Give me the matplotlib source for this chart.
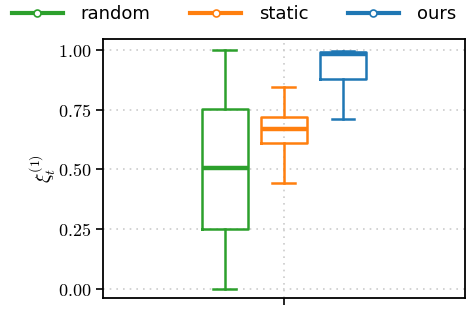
import matplotlib
matplotlib.use("Agg")
import matplotlib.pyplot as plt
from matplotlib.lines import Line2D
from matplotlib.ticker import FuncFormatter

methods = ["random", "static", "ours"]
colors = ["#2ca02c", "#ff7f0e", "#1f77b4"]
whislo = [0.0, 0.444, 0.71]
q1 = [0.251, 0.609, 0.877]
med = [0.505, 0.671, 0.982]
q3 = [0.753, 0.721, 0.992]
whishi = [1.0, 0.846, 0.996]

plt.rcParams["mathtext.fontset"] = "cm"

fig = plt.figure(figsize=(4.68, 3.10), dpi=100)
ax = fig.add_axes([0.220, 0.0387, 0.7736, 0.8353])

positions = [-0.163, 0.0, 0.163]
for i, m in enumerate(methods):
    st = [dict(med=med[i], q1=q1[i], q3=q3[i], whislo=whislo[i], whishi=whishi[i], fliers=[], label=m)]
    c = colors[i]
    ax.bxp(st, positions=[positions[i]], widths=0.127, showfliers=False, manage_ticks=False,
           boxprops=dict(color=c, linewidth=1.8),
           whiskerprops=dict(color=c, linewidth=1.8),
           capprops=dict(color=c, linewidth=1.8),
           medianprops=dict(color=c, linewidth=3.2))

ax.set_xlim(-0.5, 0.5)
ax.set_ylim(-0.038, 1.046)
ax.set_xticks([0])
ax.set_xticklabels([""])
ax.set_yticks([0, 0.25, 0.5, 0.75, 1.0])
ax.yaxis.set_major_formatter(FuncFormatter(lambda v, p: r"$%.2f$" % v))
ax.tick_params(axis="y", labelsize=13, width=1.2, length=5)
ax.tick_params(axis="x", width=1.2, length=5)
ax.grid(True, linestyle=(0, (1, 3)), color="#cccccc", linewidth=1.2)
for s in ax.spines.values():
    s.set_linewidth(1.3)
ax.set_ylabel(r"$\xi_t^{(1)}$", fontsize=14, labelpad=0)

handles = [Line2D([0], [0], color=c, linewidth=3, marker="o", markersize=5,
                  markerfacecolor="white", markeredgecolor=c, markeredgewidth=1.2)
           for c in colors]
fig.legend(handles, methods, loc="upper center", bbox_to_anchor=(0.5, 1.035), ncol=3,
           frameon=False, fontsize=13, handlelength=2.8, columnspacing=2.2, handletextpad=1.0)

fig.savefig("out.png", dpi=100)
